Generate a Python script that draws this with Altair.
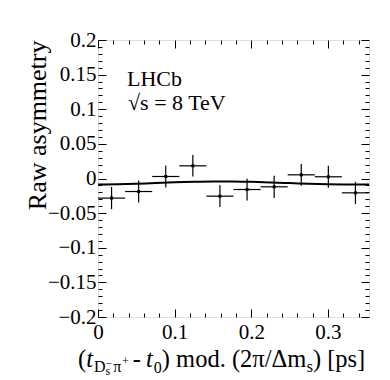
import altair as alt
import pandas as pd

# ---------------- data ----------------
BIN_EDGES = [0.0, 0.0354, 0.0707, 0.1061, 0.1414, 0.1768, 0.2122, 0.2475, 0.2829, 0.3182, 0.3536]
Y_VAL = [-0.0283, -0.0188, 0.0029, 0.0183, -0.0255, -0.0159, -0.0120, 0.0053, 0.0025, -0.0207]
Y_ERR = [0.0160, 0.0160, 0.0160, 0.0155, 0.0157, 0.0157, 0.0160, 0.0157, 0.0160, 0.0160]

CURVE_X = [0.0, 0.025, 0.05, 0.075, 0.1, 0.125, 0.15, 0.175, 0.2, 0.225, 0.25, 0.275, 0.3, 0.325, 0.3536]
CURVE_Y = [-0.0088, -0.0084, -0.0076, -0.0065, -0.0055, -0.0047, -0.0043, -0.0043, -0.0048,
           -0.0056, -0.0066, -0.0076, -0.0083, -0.0087, -0.0088]

X_MAJOR = [0.0, 0.1, 0.2, 0.3]
X_TICKS = [0.0, 0.02, 0.04, 0.06, 0.08, 0.1, 0.12, 0.14, 0.16, 0.18, 0.2, 0.22, 0.24, 0.26,
           0.28, 0.3, 0.32, 0.34]
Y_MAJOR = [-0.2, -0.15, -0.1, -0.05, 0.0, 0.05, 0.1, 0.15, 0.2]
Y_TICKS = [round(-0.2 + 0.01 * i, 2) for i in range(41)]

X_DOMAIN = [0.0, 0.3536]
Y_DOMAIN = [-0.2, 0.2]

# ---------------- layout ----------------
W, H = 271, 277
FONT = "Liberation Serif"

df = pd.DataFrame({
    "xlo": BIN_EDGES[:-1],
    "xhi": BIN_EDGES[1:],
    "x": [(a + b) / 2 for a, b in zip(BIN_EDGES[:-1], BIN_EDGES[1:])],
    "y": Y_VAL,
    "ylo": [v - e for v, e in zip(Y_VAL, Y_ERR)],
    "yhi": [v + e for v, e in zip(Y_VAL, Y_ERR)],
})
curve = pd.DataFrame({"cx": CURVE_X, "cy": CURVE_Y})
ONE = pd.DataFrame({"k": [0]})

xs = alt.Scale(domain=X_DOMAIN, nice=False, zero=False)
ys = alt.Scale(domain=Y_DOMAIN, nice=False, zero=False)

X_MAJ_TEST = "abs(datum.value*10 - round(datum.value*10)) < 1e-6"
Y_MAJ_TEST = "abs(datum.value*20 - round(datum.value*20)) < 1e-6"


def tick_axis(orient, offset, values, test):
    return alt.Axis(orient=orient, offset=offset, values=values, labels=False, domain=False,
                    grid=False, title=None, tickColor="black", tickWidth=1,
                    tickSize={"condition": {"test": test, "value": 8}, "value": 4})


ax_bottom = alt.Axis(orient="bottom", values=X_MAJOR, ticks=False, domain=False, grid=False,
                     title=None, labelFont=FONT, labelFontSize=21, labelColor="black",
                     labelPadding=4, labelFlush=False, labelOverlap=False, format="~g")
ax_left = alt.Axis(orient="left", values=Y_MAJOR, ticks=False, domain=False, grid=False,
                   title="Raw asymmetry", titleFont=FONT, titleFontSize=26,
                   titleFontWeight="normal", titleColor="black", titleAnchor="end",
                   titlePadding=-3, labelFont=FONT, labelFontSize=21, labelColor="black",
                   labelPadding=2, labelFlush=False, labelOverlap=False, format="~g")

hbars = alt.Chart(df).mark_rule(color="black", strokeWidth=1.2).encode(
    x=alt.X("xlo:Q", scale=xs, axis=ax_bottom),
    x2="xhi:Q",
    y=alt.Y("y:Q", scale=ys, axis=ax_left),
)
vbars = alt.Chart(df).mark_rule(color="black", strokeWidth=1.2).encode(
    x=alt.X("x:Q", scale=xs, axis=tick_axis("top", -H, X_TICKS, X_MAJ_TEST)),
    y=alt.Y("ylo:Q", scale=ys, axis=tick_axis("right", -W, Y_TICKS, Y_MAJ_TEST)),
    y2="yhi:Q",
)
points = alt.Chart(df).mark_square(color="black", size=9, opacity=1).encode(
    x=alt.X("x:Q", scale=xs, axis=tick_axis("bottom", -H, X_TICKS, X_MAJ_TEST)),
    y=alt.Y("y:Q", scale=ys, axis=tick_axis("left", -W, Y_TICKS, Y_MAJ_TEST)),
)
fit = alt.Chart(curve).mark_line(color="black", strokeWidth=2, interpolate="monotone").encode(
    x=alt.X("cx:Q", scale=xs, axis=None),
    y=alt.Y("cy:Q", scale=ys, axis=None),
)


def txt(s, x, y, size=22, italic=False):
    return alt.Chart(ONE).mark_text(
        text=s, font=FONT, fontSize=size, fontStyle="italic" if italic else "normal",
        align="left", baseline="alphabetic", color="black",
    ).encode(x=alt.value(x), y=alt.value(y))


texts = [txt("LHCb", 29, 46, 22), txt("√s = 8 TeV", 30, 70, 22)]

# x-axis title built from fragments (sub/superscripts)
CW = {'(': .333, ')': .333, 't': .278, 'D': .722, 's': .389, 'π': .55, '+': .564, ' ': .25,
      '-': .333, '0': .5, 'm': .778, 'o': .5, 'd': .5, '.': .25, '2': .5, '/': .278,
      'Δ': .612, '[': .333, 'p': .5, ']': .333, '−': .564}
FRAGS = [  # text, size, baseline shift, italic, advance, extra gap after
    ("(", 24.5, 0, False, True, 0),
    ("t", 24.5, 0, True, True, 1),
    ("D", 16, 5, False, True, 0),
    ("s", 12, 8, False, False, 0),
    ("−", 12, 0, False, True, 1),
    ("π", 16, 5, False, True, 0),
    ("+", 12, -2, False, True, 4),
    ("-", 24.5, 0, False, True, 5),
    ("t", 24.5, 0, True, True, 1),
    ("0", 16, 6, False, True, 0),
    (") mod. (2π/Δm", 24.5, 0, False, True, 0),
    ("s", 16, 5, False, True, 0),
    (") [ps]", 24.5, 0, False, True, 0),
]
cx, base = -20, 327
for s, size, dy, it, adv, gap in FRAGS:
    texts.append(txt(s, cx, base + dy, size, it))
    if adv:
        cx += sum(CW.get(c, .5) for c in s) * size + gap

chart = alt.layer(hbars, vbars, points, fit, *texts).resolve_axis(
    x="independent", y="independent"
).properties(
    width=W, height=H,
    autosize=alt.AutoSizeParams(type="none"),
    padding={"left": 90, "top": 32, "right": 10, "bottom": 62},
).configure_view(stroke="black", strokeWidth=1.5).configure(
    background="white", font=FONT
).configure_axis(labelFont=FONT, titleFont=FONT)

chart.save("out.html", embed_options={"renderer": "svg", "actions": False})
